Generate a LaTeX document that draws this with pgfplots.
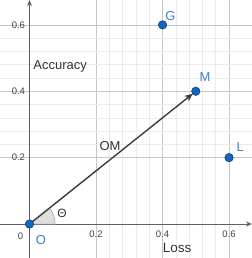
\documentclass[border=0pt]{standalone}
\usepackage{pgfplots}
\pgfplotsset{compat=1.18}
\usepackage{fontspec}
\setmainfont{Liberation Sans}
\usetikzlibrary{arrows.meta}
\definecolor{ptblue}{HTML}{1565C0}
\definecolor{lblblue}{HTML}{3F80D0}
\definecolor{axgray}{HTML}{606060}
\definecolor{vecgray}{HTML}{3C3C3C}
\begin{document}
\begin{tikzpicture}
\begin{axis}[
  scale only axis, width=252pt, height=258pt,
  xmin=-0.0887, xmax=0.669, ymin=-0.1024, ymax=0.675,
  axis lines=middle,
  axis line style={axgray, line width=0.8pt, -{Stealth[length=6pt,width=5pt]}},
  xtick={0.2,0.4,0.6}, ytick={0.2,0.4,0.6},
  minor tick num=4,
  major tick length=0pt, minor tick length=0pt,
  grid=both,
  major grid style={draw=black!22, line width=0.6pt},
  minor grid style={draw=black!8, line width=0.5pt},
  tick label style={font=\fontsize{9.5}{10}\selectfont, text=black!75},
  /pgf/number format/assume math mode=true,
  /pgf/number format/fixed, /pgf/number format/precision=1,
  xticklabel style={yshift=-3pt},
  yticklabel style={xshift=-1pt},
  clip=false,
]
% angle sector
\addplot[fill=black!13, draw=black!40, line width=0.5pt] coordinates {
 (0,0) (0.077,0) (0.0758,0.0134) (0.0724,0.0263) (0.0667,0.0385) (0.0601,0.0481) (0,0)};
% vector OM
\addplot[vecgray, line width=1.4pt, shorten >=4pt, -{Stealth[length=8pt,width=7pt]}] coordinates {(0,0) (0.5,0.4)};
% points
\addplot[only marks, mark=*, mark size=4.2pt, mark options={fill=ptblue, draw=ptblue!60!black, line width=0.6pt}] coordinates {
 (0,0) (0.5,0.4) (0.4,0.6) (0.6,0.2)};
\node[text=lblblue, font=\fontsize{13}{14}\selectfont] at (axis cs:0.034,-0.048) {O};
\node[text=lblblue, font=\fontsize{13}{14}\selectfont] at (axis cs:0.528,0.442) {M};
\node[text=lblblue, font=\fontsize{13}{14}\selectfont] at (axis cs:0.424,0.628) {G};
\node[text=lblblue, font=\fontsize{13}{14}\selectfont] at (axis cs:0.634,0.232) {L};
\node[text=black!80, font=\fontsize{13}{14}\selectfont] at (axis cs:0.242,0.235) {OM};
\node[text=black!80, font=\fontsize{12}{13}\selectfont] at (axis cs:0.098,0.033) {Θ};
\node[text=black!80, font=\fontsize{13}{14}\selectfont] at (axis cs:0.092,0.476) {Accuracy};
\node[text=black!80, font=\fontsize{13.5}{14}\selectfont] at (axis cs:0.444,-0.072) {Loss};
\node[text=black!75, font=\fontsize{9.5}{10}\selectfont] at (axis cs:-0.027,-0.036) {0};
\end{axis}
\pgfresetboundingbox
\path (current axis.south west) rectangle (current axis.north east);
\end{tikzpicture}
\end{document}
